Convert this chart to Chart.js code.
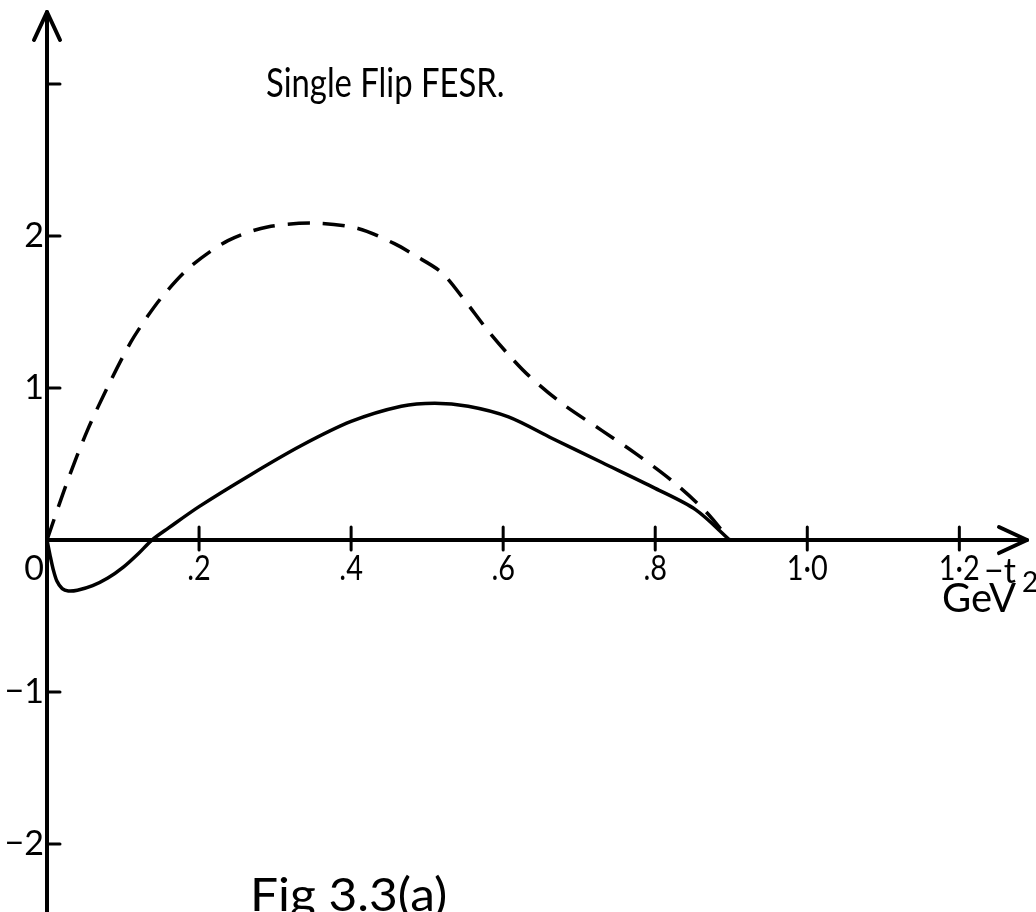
<!DOCTYPE html>
<html>
<head>
<meta charset="utf-8">
<title>Single Flip FESR</title>
<script src="https://cdn.jsdelivr.net/npm/chart.js@4.4.1/dist/chart.umd.min.js"></script>
<style>
  body { margin: 0; background: #fff; }
  #chart { display: block; }
</style>
</head>
<body>
<canvas id="chart" width="1036" height="912"></canvas>
<script>
// -t (GeV^2) values, solid curve
const solidT = [0, 0.004, 0.008, 0.013, 0.02, 0.028, 0.04, 0.06, 0.08, 0.1, 0.12, 0.138, 0.16, 0.2, 0.268, 0.334, 0.4, 0.466, 0.51, 0.554, 0.607, 0.664, 0.73, 0.8, 0.853, 0.898];
const solidY = [0, -0.1, -0.19, -0.27, -0.32, -0.335, -0.33, -0.3, -0.25, -0.18, -0.09, 0, 0.08, 0.22, 0.43, 0.62, 0.78, 0.88, 0.9, 0.88, 0.81, 0.67, 0.51, 0.34, 0.2, 0];

// dashed curve
const dashedT = [0, 0.026, 0.053, 0.083, 0.11, 0.132, 0.153, 0.189, 0.238, 0.29, 0.351, 0.409, 0.457, 0.483, 0.519, 0.549, 0.578, 0.607, 0.634, 0.677, 0.73, 0.774, 0.822, 0.866, 0.898];
const dashedY = [0, 0.375, 0.72, 1.04, 1.3, 1.47, 1.61, 1.8, 1.97, 2.06, 2.085, 2.05, 1.95, 1.875, 1.76, 1.58, 1.39, 1.22, 1.08, 0.9, 0.72, 0.57, 0.39, 0.19, 0];

// axis ticks and their labels
const xTicks = [0.2, 0.4, 0.6, 0.8, 1.0, 1.2];
const xTickLabels = [".2", ".4", ".6", ".8", "1·0", "1·2"];
const yTicks = [-2, -1, 1, 2, 3];
const yTickLabels = ["−2", "−1", "1", "2", ""];

const FONT = "Lato, 'DejaVu Sans', sans-serif";

function toPoints(xs, ys) {
    return xs.map((x, i) => ({ x: x, y: ys[i] }));
}

// squeeze text a bit horizontally, the original lettering is narrow
function narrowText(ctx, text, x, y, sx) {
    ctx.save();
    ctx.translate(x, y);
    ctx.scale(sx, 1);
    ctx.fillText(text, 0, 0);
    ctx.restore();
}

// hand-drawn style axes through the origin, with arrows
const axesPlugin = {
    id: "axes",
    afterDatasetsDraw(chart) {
        const ctx = chart.ctx;
        const xs = chart.scales.x;
        const ys = chart.scales.y;
        const area = chart.chartArea;
        const x0 = xs.getPixelForValue(0);
        const y0 = ys.getPixelForValue(0);

        ctx.save();
        ctx.strokeStyle = "#000";
        ctx.fillStyle = "#000";
        ctx.lineCap = "round";
        ctx.lineJoin = "round";

        // axis lines
        ctx.lineWidth = 4;
        ctx.beginPath();
        ctx.moveTo(x0, chart.height);
        ctx.lineTo(x0, area.top);
        ctx.moveTo(x0, y0);
        ctx.lineTo(area.right, y0);
        ctx.stroke();

        // arrow heads
        ctx.beginPath();
        ctx.moveTo(x0 - 13, area.top + 28);
        ctx.lineTo(x0, area.top);
        ctx.lineTo(x0 + 13, area.top + 28);
        ctx.moveTo(area.right - 28, y0 - 13);
        ctx.lineTo(area.right, y0);
        ctx.lineTo(area.right - 28, y0 + 13);
        ctx.stroke();

        // ticks
        ctx.lineWidth = 3;
        ctx.beginPath();
        yTicks.forEach(v => {
            const py = ys.getPixelForValue(v);
            ctx.moveTo(x0, py);
            ctx.lineTo(x0 + 13, py);
        });
        xTicks.forEach(v => {
            const px = xs.getPixelForValue(v);
            ctx.moveTo(px, y0 - 13);
            ctx.lineTo(px, y0 + 10);
        });
        ctx.stroke();

        // tick labels
        ctx.font = "34px " + FONT;
        ctx.textBaseline = "middle";
        ctx.textAlign = "right";
        yTicks.forEach((v, i) => {
            ctx.fillText(yTickLabels[i], x0 - 3, ys.getPixelForValue(v));
        });
        ctx.textBaseline = "alphabetic";
        ctx.textAlign = "center";
        xTicks.forEach((v, i) => {
            narrowText(ctx, xTickLabels[i], xs.getPixelForValue(v), y0 + 40, 0.85);
        });
        ctx.fillText("0", x0 - 13, y0 + 40);

        // axis title
        ctx.textAlign = "left";
        ctx.fillText("−t", 984, y0 + 43);
        ctx.font = "40px " + FONT;
        ctx.fillText("GeV", 942, y0 + 72);
        ctx.font = "28px " + FONT;
        ctx.fillText("2", 1022, y0 + 52);

        // captions
        ctx.font = "40px " + FONT;
        narrowText(ctx, "Single Flip FESR.", 266, 97, 0.82);
        ctx.font = "46px " + FONT;
        narrowText(ctx, "Fig 3.3(a)", 250, 911, 1.08);

        ctx.restore();
    }
};

const ctx = document.getElementById("chart").getContext("2d");
const chart = new Chart(ctx, {
    type: "scatter",
    data: {
        datasets: [
            {
                label: "solid",
                data: toPoints(solidT, solidY),
                showLine: true,
                borderColor: "#000",
                borderWidth: 3.5,
                pointRadius: 0,
                tension: 0.3,
                fill: false
            },
            {
                label: "dashed",
                data: toPoints(dashedT, dashedY),
                showLine: true,
                borderColor: "#000",
                borderWidth: 3.5,
                borderDash: [22, 13],
                pointRadius: 0,
                tension: 0.3,
                fill: false
            }
        ]
    },
    options: {
        responsive: false,
        animation: false,
        layout: { padding: { left: 47, right: 9, top: 12, bottom: 0 } },
        plugins: {
            legend: { display: false },
            tooltip: { enabled: false }
        },
        scales: {
            x: { type: "linear", display: false, min: 0, max: 1.289 },
            y: { type: "linear", display: false, min: -2.447, max: 3.474 }
        }
    },
    plugins: [axesPlugin]
});
</script>
</body>
</html>
